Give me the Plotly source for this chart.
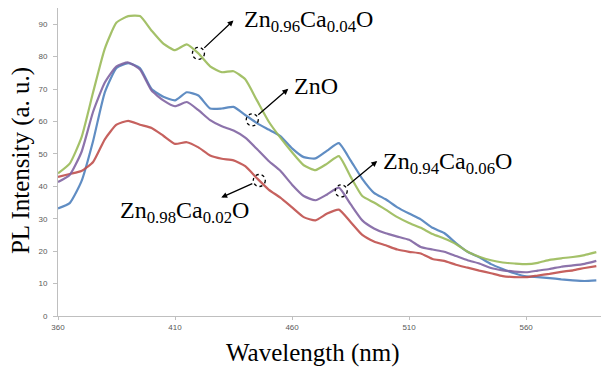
import numpy as np
import plotly.graph_objects as go

# Wavelength grid (nm)
wavelength = [360, 365, 370, 375, 380, 385, 390, 395, 400, 405, 410, 415, 420, 425, 430, 435,
              440, 445, 450, 455, 460, 465, 470, 475, 480, 485, 490, 495, 500, 505, 510, 515,
              520, 525, 530, 535, 540, 545, 550, 555, 560, 565, 570, 575, 580, 585, 590]

# PL intensities (a. u.)
zno = [33.2, 34.8, 41.5, 54.0, 69.0, 76.5, 78.0, 76.5, 70.0, 67.6, 66.5, 69.0, 68.0, 64.0, 64.0, 64.5,
       62.0, 59.5, 57.5, 55.5, 51.7, 49.0, 48.6, 51.0, 53.3, 48.0, 42.3, 38.0, 36.0, 33.5, 31.6, 29.8,
       27.2, 25.6, 22.5, 19.8, 18.1, 16.0, 14.5, 13.2, 12.2, 12.0, 11.7, 11.3, 11.0, 10.8, 11.0]

zn098 = [42.9, 43.8, 44.7, 47.5, 54.5, 59.0, 60.2, 59.0, 58.0, 55.6, 53.1, 53.6, 52.0, 49.5, 48.5, 48.0,
         46.2, 42.5, 39.0, 36.5, 33.5, 30.5, 29.5, 31.6, 32.8, 29.0, 25.0, 23.0, 21.8, 20.5, 19.8, 19.3,
         17.6, 17.0, 15.8, 14.9, 14.0, 13.2, 12.3, 12.0, 12.0, 12.5, 13.0, 13.6, 14.1, 14.8, 15.4]

zn096 = [44.0, 47.0, 55.0, 69.0, 82.5, 90.5, 92.5, 92.5, 88.0, 84.0, 82.0, 83.8, 81.0, 77.0, 75.2, 75.5,
         73.0, 66.5, 60.0, 55.0, 50.5, 46.5, 45.0, 47.0, 49.3, 43.0, 37.0, 35.0, 32.8, 30.5, 28.7, 27.2,
         25.3, 23.9, 22.2, 19.8, 18.3, 17.2, 16.5, 16.2, 16.0, 16.4, 17.3, 17.8, 18.2, 18.8, 19.7]

zn094 = [41.3, 43.5, 50.5, 63.0, 72.0, 77.0, 78.2, 76.0, 69.5, 66.5, 64.7, 66.0, 63.5, 60.4, 58.5, 57.2,
         55.0, 51.5, 47.8, 44.8, 40.5, 37.0, 35.7, 37.5, 39.6, 34.5, 29.5, 27.0, 25.5, 24.5, 23.5, 21.3,
         20.5, 19.8, 18.5, 17.2, 16.2, 14.8, 14.1, 13.7, 13.5, 14.0, 14.5, 15.2, 15.6, 16.1, 17.0]

series_names = ["ZnO", "Zn0.98Ca0.02O", "Zn0.96Ca0.04O", "Zn0.94Ca0.06O"]
series_values = [zno, zn098, zn096, zn094]
series_colors = ["#4F81BD", "#C0504D", "#9BBB59", "#8064A2"]

x_ticks = [360, 410, 460, 510, 560]
y_ticks = [0, 10, 20, 30, 40, 50, 60, 70, 80, 90]

x_title = "Wavelength (nm)"
y_title = "PL Intensity (a. u.)"

# Labelled points: series index, wavelength of circle, label text
label_series = [2, 0, 3, 1]
label_wavelength = [420, 443, 481, 446]
label_text = ["Zn<sub>0.96</sub>Ca<sub>0.04</sub>O", "ZnO",
              "Zn<sub>0.94</sub>Ca<sub>0.06</sub>O", "Zn<sub>0.98</sub>Ca<sub>0.02</sub>O"]
# screen offsets (px, y down) from circle centre: arrow head, text anchor
arrow_off = [(35, -33), (36, -31), (36, -30), (-38, 17)]
text_off = [(44, -32), (40, -34), (40, -28), (-8, 32)]

fig = go.Figure()
for name, vals, col in zip(series_names, series_values, series_colors):
    fig.add_trace(go.Scatter(
        x=wavelength, y=vals, mode="lines", name=name,
        line=dict(color=col, width=2.2, shape="spline", smoothing=0.5),
        opacity=0.9, showlegend=False, hoverinfo="skip",
    ))

serif = "Liberation Serif, Times New Roman, serif"
r = 6
for idx, wl, text, (adx, ady), (tdx, tdy) in zip(label_series, label_wavelength, label_text,
                                                 arrow_off, text_off):
    yv = float(np.interp(wl, wavelength, series_values[idx]))
    fig.add_shape(type="circle", xref="x", yref="y", xsizemode="pixel", ysizemode="pixel",
                  xanchor=wl, yanchor=yv, x0=-r, x1=r, y0=-r, y1=r,
                  line=dict(color="black", width=1.3, dash="dot"))
    L = (adx ** 2 + ady ** 2) ** 0.5
    ux, uy = adx / L, ady / L
    fig.add_annotation(
        x=wl, y=yv, xref="x", yref="y", xshift=adx, yshift=-ady,
        text="", showarrow=True, arrowhead=2, arrowsize=0.9, arrowwidth=1.3,
        arrowcolor="black", ax=-adx + ux * r, ay=-ady + uy * r, standoff=0,
    )
    fig.add_annotation(
        x=wl, y=yv, xref="x", yref="y", xshift=tdx, yshift=-tdy,
        text=text, showarrow=False,
        xanchor="left" if tdx > 0 else "right", yanchor="middle",
        font=dict(family=serif, size=24, color="black"),
    )

# axis titles
fig.add_annotation(x=0.4705, y=0, xref="paper", yref="paper", yshift=-37,
                   text=x_title, showarrow=False, xanchor="center", yanchor="middle",
                   font=dict(family=serif, size=25, color="black"))
fig.add_annotation(x=0, y=0.503, xref="paper", yref="paper", xshift=-37,
                   text=y_title, showarrow=False, xanchor="center", yanchor="middle",
                   textangle=-90, font=dict(family=serif, size=25, color="black"))

axis_line = "#BFBFBF"
tick_font = dict(family="Liberation Sans, Arial, sans-serif", size=8, color="#595959")

fig.update_layout(
    width=601, height=367,
    margin=dict(l=58, r=0, t=8, b=51),
    paper_bgcolor="white", plot_bgcolor="white",
    xaxis=dict(
        range=[360, 592], tickvals=x_ticks, ticktext=[str(v) for v in x_ticks],
        showgrid=False, zeroline=False, showline=True, linecolor=axis_line, linewidth=1,
        ticks="outside", ticklen=3, tickcolor=axis_line, tickfont=tick_font, automargin=False,
    ),
    yaxis=dict(
        range=[0, 95], tickvals=y_ticks, ticktext=[str(v) for v in y_ticks],
        showgrid=False, zeroline=False, showline=True, linecolor=axis_line, linewidth=1,
        ticks="outside", ticklen=4, tickcolor=axis_line, tickfont=tick_font,
        ticklabelstandoff=4, automargin=False,
    ),
)

fig.write_html("out.html", config={"displayModeBar": False},
               post_script="document.body.style.margin='0';")
